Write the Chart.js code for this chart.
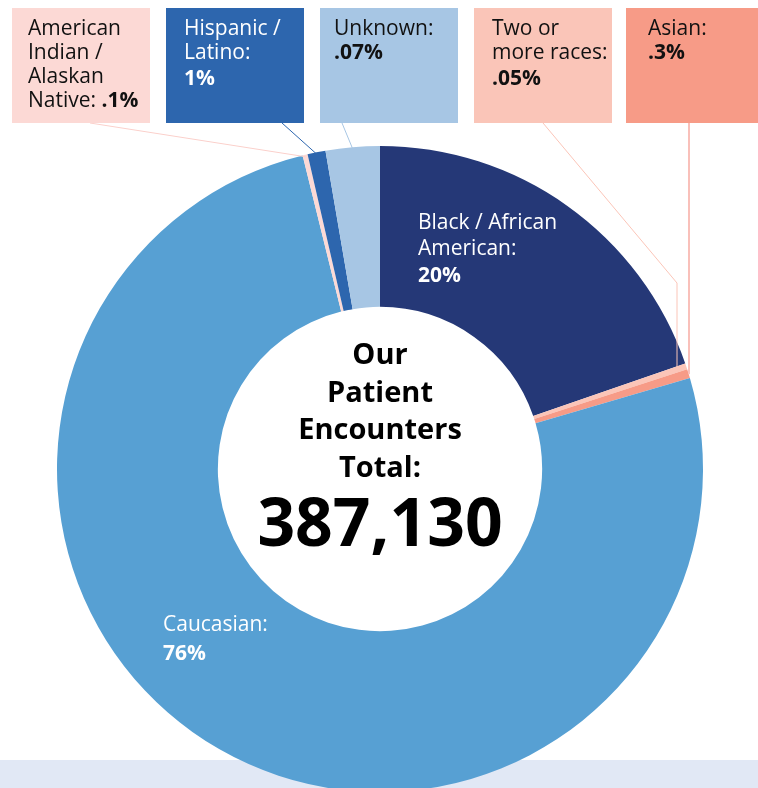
<!DOCTYPE html>
<html>
<head>
<meta charset="utf-8">
<script src="https://cdn.jsdelivr.net/npm/chart.js@4"></script>
<style>
  html, body { margin: 0; padding: 0; background: #fff; overflow: hidden; }
  #wrap { width: 758px; height: 788px; overflow: hidden; }
</style>
</head>
<body>
<div id="wrap"><canvas id="chart" width="758" height="800"></canvas></div>
<script>
// data (share of the ring, clockwise from 12 o'clock)
const categories = ['Black / African American', 'Two or more races', 'Asian', 'Caucasian',
  'American Indian / Alaskan Native', 'Hispanic / Latino', 'Unknown'];
const shares = [19.7, 0.3, 0.45, 75.7, 0.25, 0.9, 2.7];
const printedLabels = ['20%', '.05%', '.3%', '76%', '.1%', '1%', '.07%'];
const colors = ['#253877', '#fbc5b8', '#f79b87', '#57a0d3', '#fcd9d5', '#2d66ae', '#a7c6e4'];
const totalText = '387,130';

const FONT = '"Open Sans", "DejaVu Sans", sans-serif';
const SIZE = 21;

// label boxes across the top
const boxes = [
  {i: 4, x: 12,  w: 138, bg: '#fcd9d5', fg: '#111', lines: ['American', 'Indian /', 'Alaskan'], last: 'Native: ', anchor: [90, 123], line: '#fbd0cb', lw: 1},
  {i: 5, x: 166, w: 138, bg: '#2d66ae', fg: '#fff', lines: ['Hispanic /', 'Latino:'], anchor: [282, 123], line: '#2d66ae', lw: 1},
  {i: 6, x: 320, w: 138, bg: '#a7c6e4', fg: '#111', lines: ['Unknown:'], anchor: [342, 123], line: '#a7c6e4', lw: 1},
  {i: 1, x: 474, w: 138, bg: '#fac5b8', fg: '#111', lines: ['Two or', 'more races:'], anchor: [543, 123], elbow: [677, 283], line: '#fbc5b8', lw: 1},
  {i: 2, x: 626, w: 140, bg: '#f79b87', fg: '#111', lines: ['Asian:'], anchor: [689, 123], line: '#f9c0ba', lw: 2}
];

function arcPoint(arc, r) {
  const a = (arc.startAngle + arc.endAngle) / 2;
  return [arc.x + Math.cos(a) * r, arc.y + Math.sin(a) * r];
}

const labelsPlugin = {
  id: 'labels',
  beforeDatasetsDraw(chart) {
    const ctx = chart.ctx;
    ctx.save();
    ctx.fillStyle = '#e1e8f5';
    ctx.fillRect(0, 760, 758, 40);
    ctx.restore();
  },
  afterDatasetsDraw(chart) {
    const ctx = chart.ctx;
    const arcs = chart.getDatasetMeta(0).data;
    ctx.save();

    // leader lines
    boxes.forEach(b => {
      const arc = arcs[b.i];
      const p = arcPoint(arc, arc.outerRadius - 2);
      ctx.strokeStyle = b.line;
      ctx.lineWidth = b.lw;
      ctx.beginPath();
      ctx.moveTo(b.anchor[0], b.anchor[1]);
      if (b.elbow) {
        ctx.lineTo(b.elbow[0], b.elbow[1]);
        ctx.lineTo(b.elbow[0], p[1]);
      } else if (b.i === 2) {
        ctx.lineTo(b.anchor[0], p[1]);
      } else {
        ctx.lineTo(p[0], p[1]);
      }
      ctx.stroke();
    });

    // boxes
    ctx.textBaseline = 'alphabetic';
    ctx.textAlign = 'left';
    boxes.forEach(b => {
      ctx.fillStyle = b.bg;
      ctx.fillRect(b.x, 8, b.w, 115);
      ctx.fillStyle = b.fg;
      const tx = b.x + (b.i === 4 ? 16 : b.i === 2 ? 22 : b.i === 6 ? 14 : 18);
      ctx.font = SIZE + 'px ' + FONT;
      let y = 35;
      b.lines.forEach(t => { ctx.fillText(t, tx, y); y += 24; });
      if (b.last) {
        ctx.fillText(b.last, tx, y);
        const w = ctx.measureText(b.last).width;
        ctx.font = 'bold ' + SIZE + 'px ' + FONT;
        ctx.fillText(printedLabels[b.i], tx + w, y);
      } else {
        ctx.font = 'bold ' + SIZE + 'px ' + FONT;
        ctx.fillText(printedLabels[b.i], tx, b.lines.length > 1 ? y + 2 : y);
      }
    });

    // labels inside ring
    ctx.fillStyle = '#fff';
    ctx.font = SIZE + 'px ' + FONT;
    ctx.fillText('Black / African', 418, 229);
    ctx.fillText('American:', 418, 255);
    ctx.fillText('Caucasian:', 163, 631);
    ctx.font = 'bold ' + SIZE + 'px ' + FONT;
    ctx.fillText(printedLabels[0], 418, 282);
    ctx.fillText(printedLabels[3], 163, 660);

    // centre text
    const cx = arcs[0].x;
    ctx.fillStyle = '#000';
    ctx.textAlign = 'center';
    ctx.font = 'bold 29px ' + FONT;
    ['Our', 'Patient', 'Encounters', 'Total:'].forEach((t, k) => {
      ctx.fillText(t, cx, 364 + k * 37.5);
    });
    ctx.font = 'bold 66px ' + FONT;
    ctx.fillText(totalText, cx, 546);
    ctx.restore();
  }
};

new Chart(document.getElementById('chart'), {
  type: 'doughnut',
  data: {
    labels: categories,
    datasets: [{
      data: shares,
      backgroundColor: colors,
      borderWidth: 0
    }]
  },
  options: {
    responsive: false,
    devicePixelRatio: 1,
    animation: false,
    cutout: '50.2%',
    layout: { padding: { left: 57, right: 55, top: 146, bottom: 8 } },
    plugins: { legend: { display: false }, tooltip: { enabled: false } }
  },
  plugins: [labelsPlugin]
});
</script>
</body>
</html>
